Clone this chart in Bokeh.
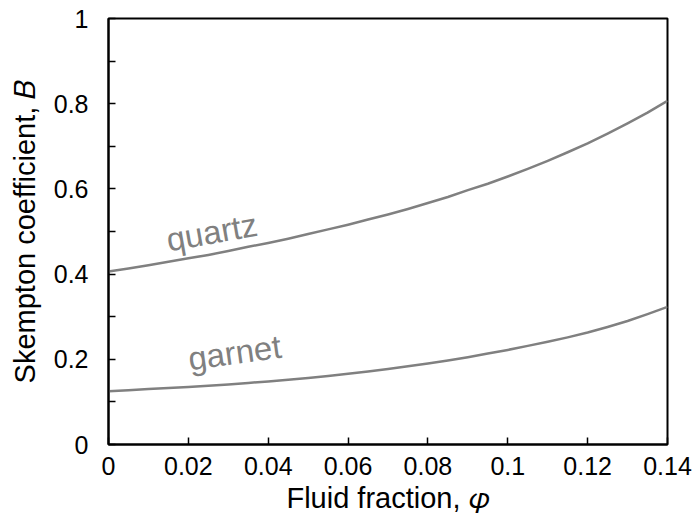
from bokeh.plotting import figure
from bokeh.models import Range1d, FixedTicker, Label
from bokeh.embed import file_html
from bokeh.resources import INLINE

# ---- data ----
phi = [0.000, 0.005, 0.010, 0.015, 0.020, 0.025, 0.030, 0.035, 0.040, 0.045,
       0.050, 0.055, 0.060, 0.065, 0.070, 0.075, 0.080, 0.085, 0.090, 0.095,
       0.100, 0.105, 0.110, 0.115, 0.120, 0.125, 0.130, 0.135, 0.140]
b_quartz = [0.406, 0.413, 0.421, 0.429, 0.437, 0.445, 0.454, 0.464, 0.473, 0.483,
            0.494, 0.505, 0.516, 0.528, 0.540, 0.553, 0.567, 0.581, 0.597, 0.612,
            0.629, 0.647, 0.666, 0.686, 0.707, 0.730, 0.754, 0.779, 0.807]
b_garnet = [0.125, 0.1275, 0.130, 0.1325, 0.135, 0.138, 0.141, 0.1445, 0.148, 0.152,
            0.156, 0.161, 0.166, 0.1715, 0.177, 0.1835, 0.190, 0.197, 0.205, 0.2135,
            0.222, 0.2315, 0.241, 0.2515, 0.263, 0.276, 0.290, 0.306, 0.323]

x_ticks = [0.0, 0.02, 0.04, 0.06, 0.08, 0.10, 0.12, 0.14]
x_tick_labels = ["0", "0.02", "0.04", "0.06", "0.08", "0.1", "0.12", "0.14"]
y_ticks = [0.0, 0.2, 0.4, 0.6, 0.8, 1.0]
y_tick_labels = ["0", "0.2", "0.4", "0.6", "0.8", "1"]
y_minor_ticks = [0.1, 0.3, 0.5, 0.7, 0.9]

series_names = ["quartz", "garnet"]
x_title = "Fluid fraction, \U0001D711"
y_title = "Skempton coefficient, \U0001D435"

FONT = "Liberation Sans"
GRAY = "#808080"

p = figure(width=696, height=529, output_backend="svg", toolbar_location=None,
           x_range=Range1d(0, 0.14), y_range=Range1d(0, 1),
           min_border_left=108, min_border_right=29,
           min_border_top=18, min_border_bottom=85)

p.xgrid.visible = False
p.ygrid.visible = False
p.outline_line_color = "black"
p.outline_line_width = 2
p.outline_line_alpha = 1.0
p.background_fill_color = "white"
p.border_fill_color = "white"

# lines
p.line(phi, b_quartz, line_color=GRAY, line_width=2.5, line_join="round")
p.line(phi, b_garnet, line_color=GRAY, line_width=2.5, line_join="round")

# axes
xa = p.xaxis[0]
xa.ticker = FixedTicker(ticks=x_ticks)
xa.major_label_overrides = {t: l for t, l in zip(x_ticks, x_tick_labels)}
ya = p.yaxis[0]
ya.ticker = FixedTicker(ticks=y_ticks, minor_ticks=y_minor_ticks)
ya.major_label_overrides = {t: l for t, l in zip(y_ticks, y_tick_labels)}

for ax in (xa, ya):
    ax.axis_line_color = "black"
    ax.axis_line_width = 2
    ax.major_tick_line_color = "black"
    ax.major_tick_line_width = 1.5
    ax.major_tick_in = 7
    ax.major_tick_out = 0
    ax.minor_tick_line_color = "black"
    ax.minor_tick_line_width = 1.5
    ax.minor_tick_in = 7
    ax.minor_tick_out = 0
    ax.major_label_text_font = FONT
    ax.major_label_text_font_size = "25px"
    ax.major_label_text_color = "black"
    ax.axis_label_text_font = FONT
    ax.axis_label_text_font_size = "29px"
    ax.axis_label_text_font_style = "normal"
    ax.axis_label_text_color = "black"
xa.minor_tick_line_color = None
xa.major_label_standoff = 12
ya.major_label_standoff = 20
xa.axis_label = x_title
ya.axis_label = y_title
xa.axis_label_standoff = 4
ya.axis_label_standoff = 10

# curve labels
p.add_layout(Label(x=0.0259, y=0.4985, text=series_names[0], angle=10, angle_units="deg",
                   text_align="center", text_baseline="middle", text_font=FONT,
                   text_font_size="33px", text_color=GRAY))
p.add_layout(Label(x=0.0316, y=0.216, text=series_names[1], angle=8, angle_units="deg",
                   text_align="center", text_baseline="middle", text_font=FONT,
                   text_font_size="33px", text_color=GRAY))

open("out.html", "w").write(file_html(p, INLINE))
